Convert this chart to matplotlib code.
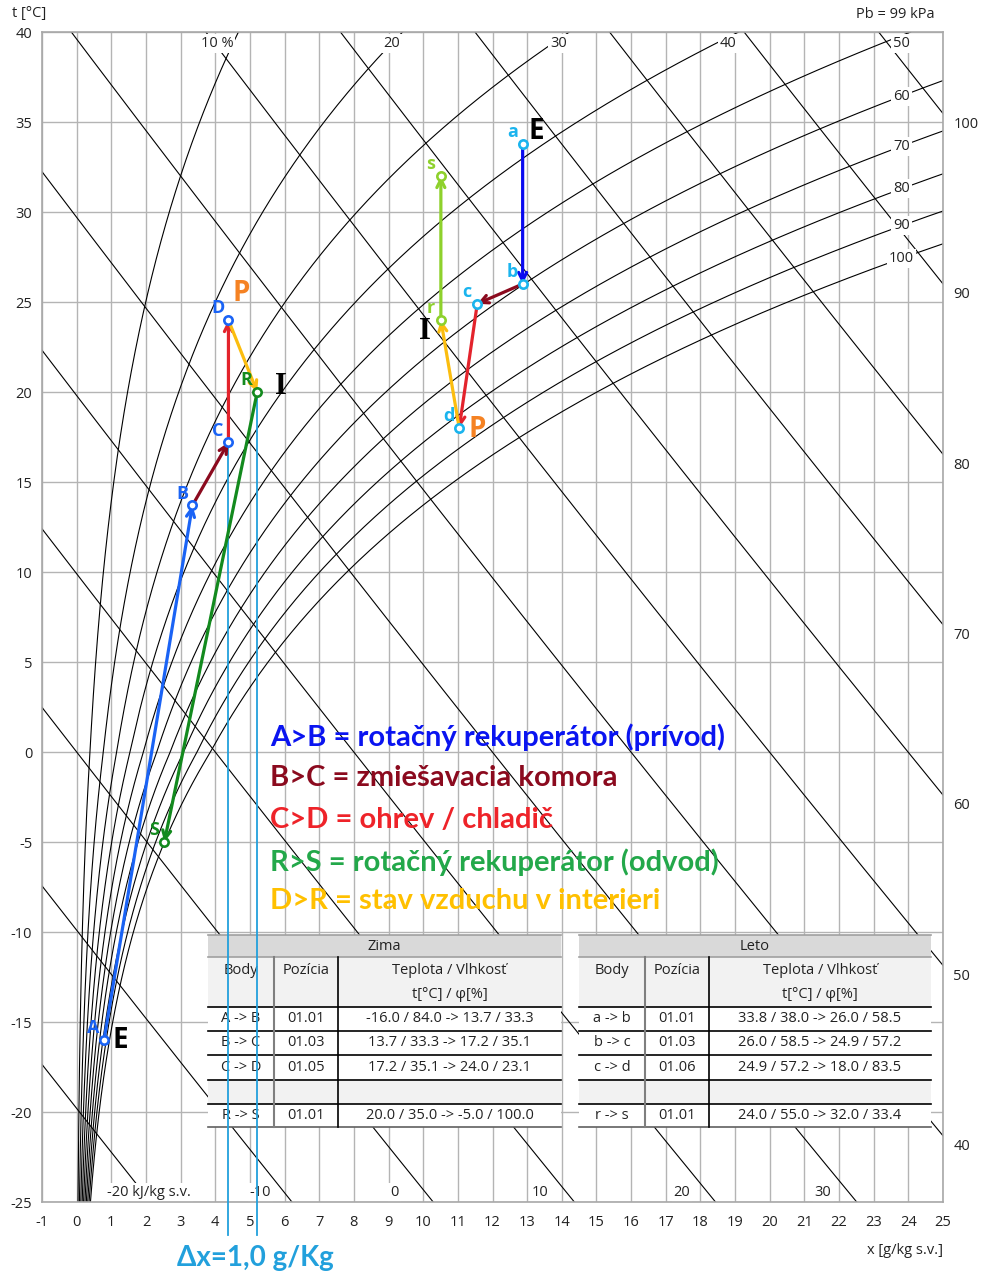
import numpy as np
import matplotlib
matplotlib.use("Agg")
import matplotlib.pyplot as plt
from matplotlib.patches import Rectangle
from matplotlib.transforms import Affine2D

W, H = 984, 1277
P_BARO = 99.0  # kPa

# ---------------- data ----------------
x_ticks = list(range(-1, 26))
t_ticks = list(range(-25, 41, 5))

rh_levels = [10, 20, 30, 40, 50, 60, 70, 80, 90, 100]
h_levels = [-20, -10, 0, 10, 20, 30, 40, 50, 60, 70, 80, 90, 100]

# winter states (x in g/kg, t in degC)
win_names = ["A", "B", "C", "D", "R", "S"]
win_x = [0.79, 3.34, 4.38, 4.38, 5.21, 2.53]
win_t = [-16.0, 13.7, 17.2, 24.0, 20.0, -5.0]

# summer states
sum_names = ["a", "b", "c", "d", "r", "s"]
sum_x = [12.87, 12.87, 11.56, 11.04, 10.51, 10.51]
sum_t = [33.8, 26.0, 24.9, 18.0, 24.0, 32.0]

# processes: (start, end, colour)
win_proc = [("A", "B", "#1a63f5"), ("B", "C", "#8b0a1e"), ("C", "D", "#e3232c"),
            ("D", "R", "#fbbd0f"), ("R", "S", "#138a1e")]
sum_proc = [("a", "b", "#0a0af0"), ("b", "c", "#8b0a1e"), ("c", "d", "#e3232c"),
            ("d", "r", "#fbbd0f"), ("r", "s", "#8ed12c")]

win_pt_col = {"A": "#1a63f5", "B": "#1a63f5", "C": "#1a63f5", "D": "#1a63f5",
              "R": "#138a1e", "S": "#138a1e"}
sum_pt_col = {"a": "#1ab4ee", "b": "#1ab4ee", "c": "#1ab4ee", "d": "#1ab4ee",
              "r": "#8ed12c", "s": "#8ed12c"}

legend_lines = ["A>B = rotačný rekuperátor (prívod)",
                "B>C = zmiešavacia komora",
                "C>D = ohrev / chladič",
                "R>S = rotačný rekuperátor (odvod)",
                "D>R = stav vzduchu v interieri"]
legend_cols = ["#0a14f0", "#8b0a1e", "#ee2329", "#23a84a", "#ffc000"]

zima_rows = [("A -> B", "01.01", "-16.0 / 84.0 -> 13.7 / 33.3"),
             ("B -> C", "01.03", "13.7 / 33.3 -> 17.2 / 35.1"),
             ("C -> D", "01.05", "17.2 / 35.1 -> 24.0 / 23.1"),
             ("", "", ""),
             ("R -> S", "01.01", "20.0 / 35.0 -> -5.0 / 100.0")]
leto_rows = [("a -> b", "01.01", "33.8 / 38.0 -> 26.0 / 58.5"),
             ("b -> c", "01.03", "26.0 / 58.5 -> 24.9 / 57.2"),
             ("c -> d", "01.06", "24.9 / 57.2 -> 18.0 / 83.5"),
             ("", "", ""),
             ("r -> s", "01.01", "24.0 / 55.0 -> 32.0 / 33.4")]

top_rh_labels = ["10 %", "20", "30", "40", "50"]
top_rh_x = [4.05, 9.1, 13.9, 18.8, 23.8]
side_rh_labels = [60, 70, 80, 90, 100]

bottom_h_labels = ["-20 kJ/kg s.v.", "-10", "0", "10", "20", "30"]
bottom_h_x = [0.87, 5.3, 9.17, 13.37, 17.47, 21.54]
right_h_labels = [40, 50, 60, 70, 80, 90, 100]


# ---------------- psychrometrics ----------------
def p_sat(t):
    t = np.asarray(t, dtype=float)
    water = 0.61094 * np.exp(17.625 * t / (t + 243.04))
    ice = 0.61115 * np.exp(22.452 * t / (272.55 + t))
    return np.where(t >= 0, water, ice)


def x_of(t, phi):
    pv = phi * p_sat(t)
    return 622.0 * pv / (P_BARO - pv)


def t_of_h(h, x):
    return (h - 2.501 * x) / (1.01 + 0.00186 * x)


# ---------------- figure ----------------
plt.rcParams["font.family"] = ["Open Sans", "DejaVu Sans"]
plt.rcParams["axes.unicode_minus"] = False
fig = plt.figure(figsize=(W / 100, H / 100), dpi=100)
ax = fig.add_axes([42 / W, 1 - 1202 / H, (943 - 42) / W, (1202 - 32) / H])
px = Affine2D().scale(1 / W, -1 / H).translate(0, 1) + fig.transFigure

ax.set_xticks(x_ticks)
ax.set_yticks(t_ticks)
ax.tick_params(length=0, labelsize=10.5, colors="#222222")
ax.tick_params(axis="x", pad=9)
ax.tick_params(axis="y", pad=7)
ax.grid(True, color="#b4b4b4", lw=1.0, zorder=0)
ax.set_axisbelow(True)
for sp in ax.spines.values():
    sp.set_color("#a8a8a8")
    sp.set_linewidth(1.2)

# relative humidity curves
tt = np.linspace(-25, 40, 800)
for rh in rh_levels:
    ax.plot(x_of(tt, rh / 100), tt, color="black", lw=0.8, zorder=1)

# enthalpy lines
xx = np.linspace(-1, 25, 200)
for h in h_levels:
    ax.plot(xx, t_of_h(h, xx), color="black", lw=0.8, zorder=1)

lab_box = dict(facecolor="white", edgecolor="none", pad=1.5)
for lab, xl in zip(top_rh_labels, top_rh_x):
    ax.text(xl, 39.35, lab, ha="center", va="center", fontsize=10.5,
            color="#222222", bbox=lab_box, zorder=2)
for rh in side_rh_labels:
    xs = x_of(tt, rh / 100)
    tl = np.interp(23.8, xs, tt)
    ax.text(23.8, tl, str(rh), ha="center", va="center", fontsize=10.5,
            color="#222222", bbox=lab_box, zorder=2)
for i, (lab, xl) in enumerate(zip(bottom_h_labels, bottom_h_x)):
    ax.text(xl, -24.45, lab, ha="left" if i == 0 else "center", va="center",
            fontsize=10.5, color="#222222", bbox=lab_box, zorder=2)
for h in right_h_labels:
    ax.text(25.3, t_of_h(h, 25.0) - 0.6, str(h), ha="left", va="center",
            fontsize=10.5, color="#222222", clip_on=False)

# processes
pts = {}
pts.update({n: (x, t) for n, x, t in zip(win_names, win_x, win_t)})
pts.update({n: (x, t) for n, x, t in zip(sum_names, sum_x, sum_t)})
for a, b, col in win_proc + sum_proc:
    ax.annotate("", xy=pts[b], xytext=pts[a], zorder=5,
                arrowprops=dict(arrowstyle="->,head_length=0.32,head_width=0.16",
                                color=col, lw=2.3, shrinkA=0, shrinkB=0,
                                mutation_scale=18))

for cols in (win_pt_col, sum_pt_col):
    for n, col in cols.items():
        x, t = pts[n]
        ax.plot(x, t, "o", ms=6, mfc="white", mec=col, mew=1.9, zorder=6)
        ax.annotate(n, (x, t), xytext=(-7.5, 8.5), textcoords="offset points",
                    ha="center", va="center", fontsize=13, fontweight="bold",
                    color=col, zorder=7)

# state markers E / P / I
big = [("E", "A", (12, 0), "black", "sans"), ("E", "a", (10, 9), "black", "sans"),
       ("P", "D", (9.5, 19), "#f58223", "sans"), ("P", "d", (13, -1), "#f58223", "sans"),
       ("I", "R", (17, 4), "black", "serif"), ("I", "r", (-11.5, -8.5), "black", "serif")]
for txt, ref, off, col, fam in big:
    if fam == "serif":
        ax.annotate(txt, pts[ref], xytext=off, textcoords="offset points",
                    ha="center", va="center", fontsize=22, fontweight="bold",
                    family="Liberation Serif", color=col, zorder=7)
    else:
        ax.annotate(txt, pts[ref], xytext=off, textcoords="offset points",
                    ha="center", va="center", fontsize=20, fontweight="bold",
                    color=col, zorder=7)

# legend text
leg_t = [0.83, -1.44, -3.8, -6.1, -8.3]
for txt, col, tl in zip(legend_lines, legend_cols, leg_t):
    ax.text(5.58, tl, txt, ha="left", va="center", fontsize=21,
            fontweight="bold", family="Lato", color=col, zorder=7)


# tables
def draw_table(left, sep1, sep2, right, title, rows):
    ys = [935, 957, 1007, 1031, 1055, 1080, 1104, 1127]
    fills = ["#d9d9d9", "#f2f2f2", "white", "white", "white", "#f2f2f2", "white"]
    for i, f in enumerate(fills):
        ax.add_patch(Rectangle((left, ys[i]), right - left, ys[i + 1] - ys[i],
                               facecolor=f, edgecolor="none", transform=px,
                               zorder=3, clip_on=False))
    for i, y in enumerate(ys):
        col = "#a0a0a0" if i in (0, 1) else ("#606060" if i == 7 else "black")
        ax.plot([left, right], [y, y], color=col, lw=1.2, transform=px,
                zorder=3.2, clip_on=False)
    ax.plot([sep1, sep1], [957, 1127], color="#7f7f7f", lw=1.5, transform=px,
            zorder=3.2, clip_on=False)
    ax.plot([sep2, sep2], [957, 1127], color="black", lw=1.2, transform=px,
            zorder=3.2, clip_on=False)
    tk = dict(transform=px, ha="center", va="center", fontsize=10.5,
              color="#222222", zorder=3.5)
    ax.text((left + right) / 2, 946, title, **tk)
    c1, c2, c3 = (left + sep1) / 2, (sep1 + sep2) / 2, (sep2 + right) / 2
    ax.text(c1, 971, "Body", **tk)
    ax.text(c2, 971, "Pozícia", **tk)
    ax.text(c3, 971, "Teplota / Vlhkosť", **tk)
    ax.text(c3, 995, "t[°C] / φ[%]", **tk)
    for (r1, r2, r3), y0, y1 in zip(rows, ys[2:-1], ys[3:]):
        ym = (y0 + y1) / 2
        ax.text(c1, ym, r1, **tk)
        ax.text(c2, ym, r2, **tk)
        ax.text(c3, ym, r3, **tk)


draw_table(208, 274, 338, 561, "Zima", zima_rows)
draw_table(579, 645, 709, 931, "Leto", leto_rows)

# humidity difference markers
for n in ("D", "R"):
    x, t = pts[n]
    ax.plot([x, x], [t, -26.85], color="#22a0dc", lw=1.3, zorder=4,
            clip_on=False)
ax.text(255, 1258, "Δx=1,0 g/Kg", transform=px, ha="center", va="center",
        fontsize=20, fontweight="bold", family="Lato", color="#22a0dc")

# axis titles
fig.text(12 / W, 1 - 14 / H, "t [°C]", ha="left", va="center", fontsize=10.5,
         color="#222222")
fig.text(935 / W, 1 - 14 / H, "Pb = 99 kPa", ha="right", va="center",
         fontsize=10.5, color="#222222")
fig.text(943 / W, 1 - 1250 / H, "x [g/kg s.v.]", ha="right", va="center",
         fontsize=10.5, color="#222222")

ax.set_xlim(-1, 25)
ax.set_ylim(-25, 40)

fig.savefig("out.png", dpi=100)
